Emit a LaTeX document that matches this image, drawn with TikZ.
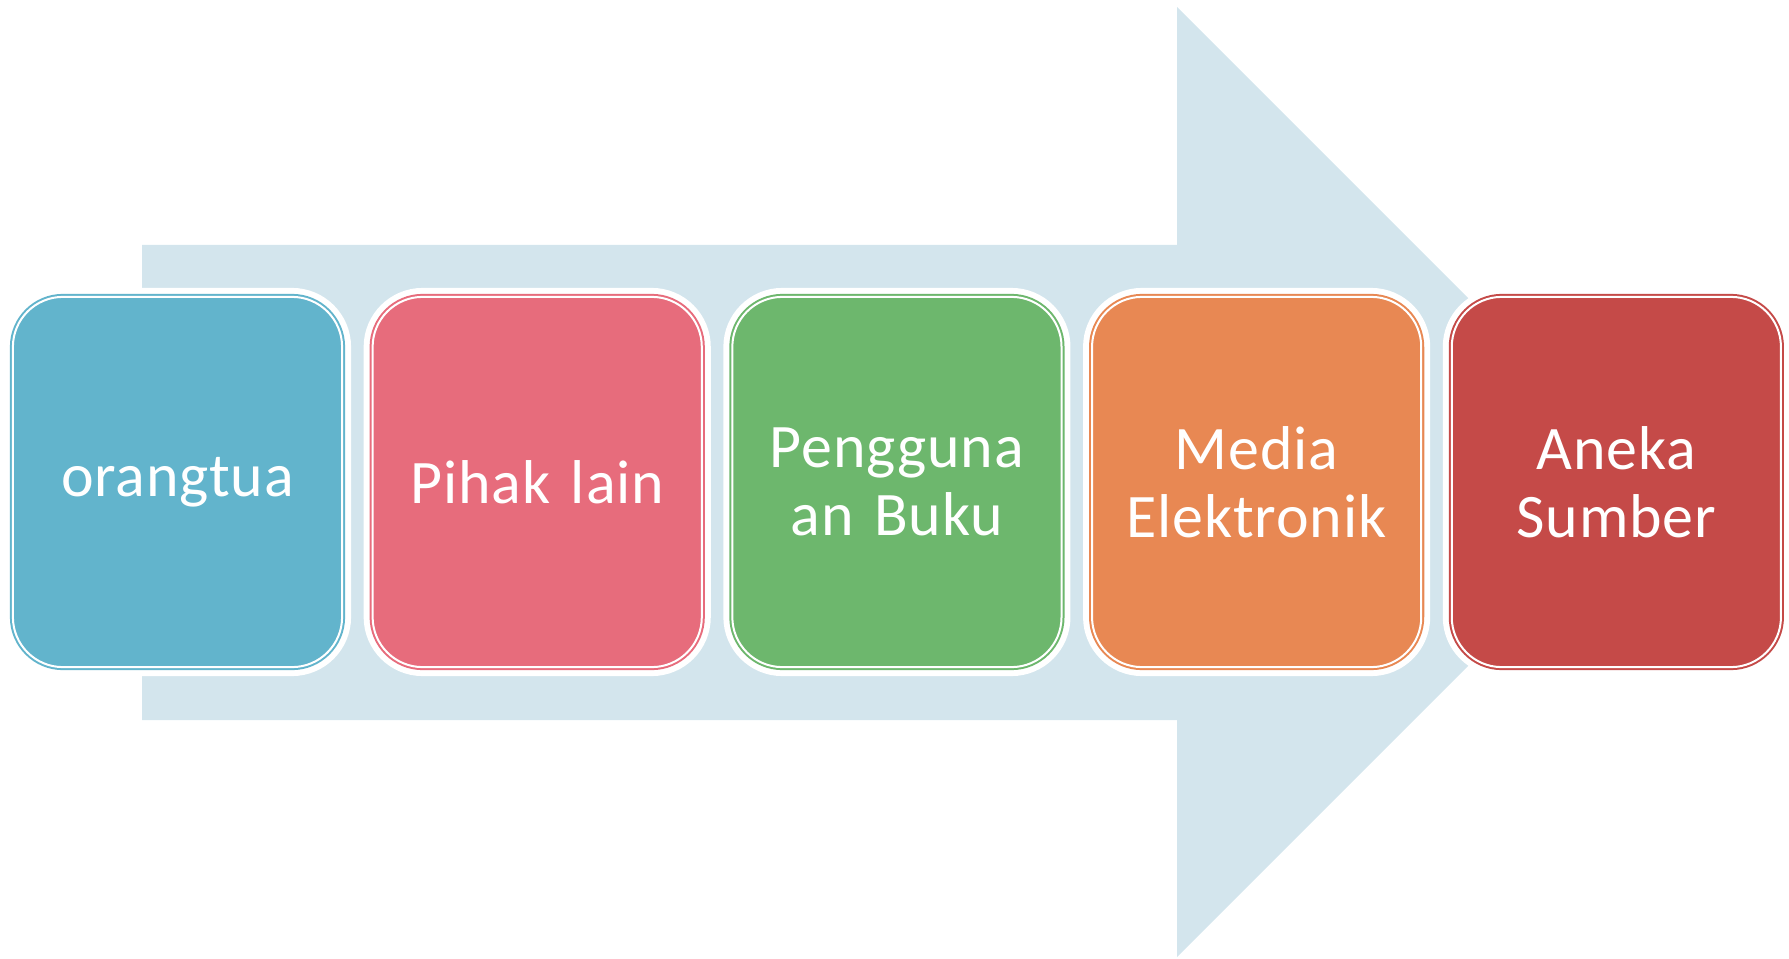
\documentclass[tikz,border=0pt]{standalone}
\usepackage{fontspec}
\setmainfont{Carlito}[LetterSpace=1.5]
\usetikzlibrary{positioning}
\definecolor{panah}{HTML}{D3E5ED}
\definecolor{biru}{HTML}{62B4CC}
\definecolor{merah muda}{HTML}{E76C7C}
\definecolor{hijau}{HTML}{6DB76D}
\definecolor{jingga}{HTML}{E88853}
\definecolor{merah}{HTML}{C54A48}
\tikzset{
  kotak/.style={rectangle, rounded corners=0.5cm, minimum width=3.29cm,
    minimum height=3.70cm, text width=3.0cm, inner xsep=0pt, align=center,
    outer sep=0pt,
    fill=#1, draw=#1, double=white, line width=0.57pt, double distance=0.57pt,
    preaction={draw=white, line width=5.1pt},
    text=white, font=\fontsize{17.6}{19.4}\selectfont}
}

\begin{document}
\begin{tikzpicture}[x=0.01cm, y=-0.01cm]
\useasboundingbox (0,0) rectangle (1789,958);
% panah besar di belakang
\fill [panah] (142,245) -- (1177,245) -- (1177,7) -- (1652,482)
  -- (1177,957) -- (1177,720) -- (142,720) -- cycle;
% kotak-kotak
\node[kotak=biru] (ortu) at (177.5,482) {orangtua};
\node[kotak=merah muda, right=0.305cm of ortu] (pihak) {Pihak lain};
\node[kotak=hijau, right=0.305cm of pihak] (buku) {Pengguna\\an Buku};
\node[kotak=jingga, right=0.305cm of buku] (media) {Media\\Elektronik};
\node[kotak=merah, right=0.305cm of media] (aneka) {Aneka\\Sumber};
\end{tikzpicture}
\end{document}
